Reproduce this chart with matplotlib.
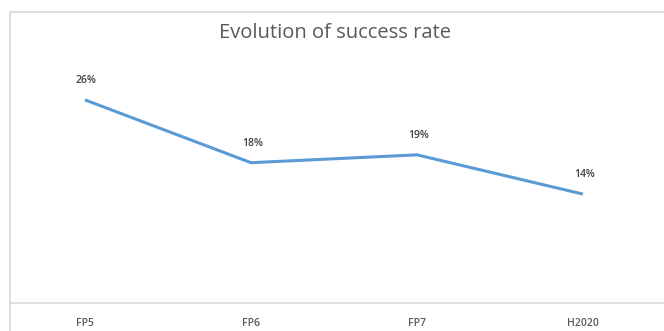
import matplotlib
matplotlib.use("Agg")
import matplotlib.pyplot as plt
from matplotlib.patches import Rectangle
from matplotlib.lines import Line2D

categories = ["FP5", "FP6", "FP7", "H2020"]
success_rate = [26, 18, 19, 14]
value_labels = ["26%", "18%", "19%", "14%"]

W, H = 664, 331
fig = plt.figure(figsize=(W / 100, H / 100), dpi=100)
fig.patch.set_facecolor("white")

# chart border
fig.add_artist(Rectangle((10 / W, -0.1), 1.2, (H - 12) / H + 0.1,
                         transform=fig.transFigure, fill=False,
                         edgecolor="#D9D9D9", linewidth=1.2))

ax = fig.add_axes([2 / W, (H - 304) / H, 664 / W, 235.5 / H])
ax.set_facecolor("none")
x = list(range(len(categories)))
ax.plot(x, success_rate, color="#5B9BD5", linewidth=2.2, solid_capstyle="butt")
ax.set_xlim(-0.5, len(categories) - 0.5)
ax.set_ylim(0, 30)
for s in ax.spines.values():
    s.set_visible(False)
ax.set_yticks([])
ax.set_xticks(x)
ax.set_xticklabels(categories, fontsize=7.5, color="#595959", family="Open Sans",
                   fontweight="semibold")
ax.tick_params(axis="x", length=0, pad=10)

for xi, yi, lab in zip(x, success_rate, value_labels):
    ax.annotate(lab, (xi, yi), xytext=(1, 10), textcoords="offset points",
                ha="center", va="bottom", fontsize=7.5, color="#404040",
                family="Open Sans", fontweight="semibold")

# category axis line
fig.add_artist(Line2D([10 / W, 1.0], [(H - 303) / H] * 2, transform=fig.transFigure,
                      color="#D9D9D9", linewidth=1.2))

fig.text(335 / W, (H - 33) / H, "Evolution of success rate", ha="center", va="center",
         fontsize=14.5, color="#595959", family="Open Sans")

fig.savefig("out.png", dpi=100, facecolor="white")
